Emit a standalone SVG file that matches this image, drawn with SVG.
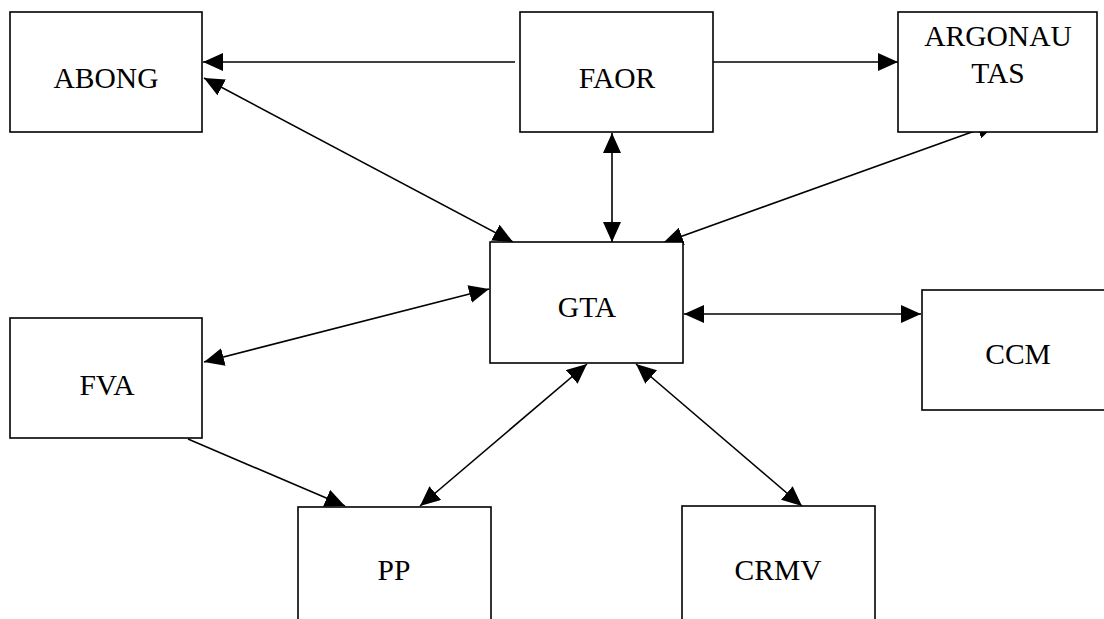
<svg xmlns="http://www.w3.org/2000/svg" width="1104" height="619" viewBox="0 0 1104 619">
<style>
.box{fill:#fff;stroke:#000;stroke-width:1.6}
.lbl{font-family:"Liberation Serif","Times New Roman",serif;font-size:29.5px;fill:#000;text-anchor:middle}
.c{fill:none;stroke:#000;stroke-width:1.6}
.one{marker-end:url(#ah)}
.two{marker-start:url(#ah);marker-end:url(#ah)}
</style>
<defs>
<marker id="ah" markerUnits="userSpaceOnUse" viewBox="0 0 20 18" markerWidth="20" markerHeight="18" refX="20" refY="9" orient="auto-start-reverse">
<path d="M0,0 L20,9 L0,18 z" fill="#000"/>
</marker>
</defs>
<rect width="1104" height="619" fill="#fff"/>
<g id="connectors">
<path class="c one" d="M515,62 L203,62"/>
<path class="c one" d="M707,62 L898,62"/>
<path class="c two" d="M204,78 L513,242"/>
<path class="c two" d="M612,133 L612,242"/>
<path class="c two" d="M997,123 L663,243"/>
<path class="c two" d="M204,362 L489,289"/>
<path class="c two" d="M684,314 L921,314"/>
<path class="c two" d="M587,364 L420,506"/>
<path class="c two" d="M636,364 L802,506"/>
<path class="c one" d="M188,439 L345,506"/>
</g>
<g id="ABONG"><rect class="box" x="10" y="12" width="192" height="120"/><text class="lbl" x="106" y="88">ABONG</text></g>
<g id="FAOR"><rect class="box" x="520" y="12" width="193" height="120"/><text class="lbl" x="617" y="88">FAOR</text></g>
<g id="ARGONAUTAS"><rect class="box" x="898" y="12" width="199" height="120"/><text class="lbl" x="998" y="46">ARGONAU</text><text class="lbl" x="998" y="83">TAS</text></g>
<g id="GTA"><rect class="box" x="490" y="242" width="193" height="121"/><text class="lbl" x="587" y="317">GTA</text></g>
<g id="FVA"><rect class="box" x="10" y="318" width="192" height="120"/><text class="lbl" x="107" y="395">FVA</text></g>
<g id="CCM"><rect class="box" x="922" y="290" width="192" height="120"/><text class="lbl" x="1018" y="364">CCM</text></g>
<g id="PP"><rect class="box" x="298" y="507" width="193" height="130"/><text class="lbl" x="394" y="580">PP</text></g>
<g id="CRMV"><rect class="box" x="682" y="506" width="193" height="130"/><text class="lbl" x="778" y="580">CRMV</text></g>
</svg>
